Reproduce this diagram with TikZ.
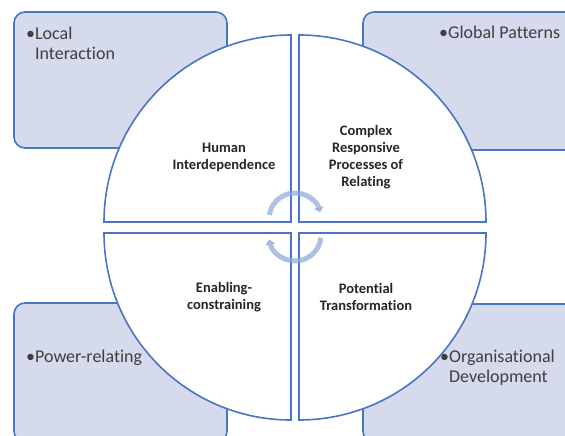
\documentclass[tikz,border=0pt]{standalone}
\usepackage{fontspec}
\setmainfont{Carlito}[Ligatures=NoCommon]
\usetikzlibrary{arrows.meta}
\definecolor{boxfill}{HTML}{D5DAEC}
\definecolor{edgeblue}{HTML}{4A74C4}
\definecolor{arrowblue}{HTML}{8CA7D8}
\definecolor{textgrey}{HTML}{3F3F3F}
\begin{document}
\begin{tikzpicture}[x=1pt,y=1pt,
		outerbox/.style={draw=edgeblue, line width=1.6pt, fill=boxfill, rounded corners=11pt},
		quadrant/.style={draw=edgeblue, line width=1.6pt, fill=white},
		cyclearrow/.style={draw=arrowblue, line width=5pt, opacity=0.7, -{Triangle[length=5pt,width=10pt]}},
		quadtext/.style={align=center, font=\fontsize{14.5}{17}\selectfont\bfseries, text=black!85},
		bullettext/.style={align=left, anchor=west, inner sep=0pt, font=\fontsize{18}{20}\selectfont, text=textgrey}]
	\useasboundingbox (0,0) rectangle (565,-436);
	\clip (0,0) rectangle (565,-436);

	\draw[outerbox] (14,-12) rectangle (227,-148);
	\draw[outerbox] (363,-12) rectangle (576,-150);
	\draw[outerbox] (14,-303) rectangle (227,-442);
	\draw[outerbox] (363,-304) rectangle (576,-442);

	\draw[quadrant] (291,-222) -- ++(-187,0) arc[start angle=180, end angle=90, radius=187] -- cycle;
	\draw[quadrant] (299,-222) -- ++(0,187) arc[start angle=90, end angle=0, radius=187] -- cycle;
	\draw[quadrant] (291,-233) -- ++(0,-187) arc[start angle=270, end angle=180, radius=187] -- cycle;
	\draw[quadrant] (299,-233) -- ++(187,0) arc[start angle=0, end angle=-90, radius=187] -- cycle;

	\draw[cyclearrow] (295,-219) ++(171:26) arc[start angle=171, end angle=15, radius=26];
	\draw[cyclearrow] (295,-235) ++(-6:26) arc[start angle=-6, end angle=-170, radius=26];

	\node[quadtext] (human) at (224,-157) {Human\\Interdependence};
	\node[quadtext] (complex) at (366,-157) {Complex\\Responsive\\Processes of\\Relating};
	\node[quadtext] (enabling) at (224,-297) {Enabling-\\constraining};
	\node[quadtext] (potential) at (366,-297) {Potential\\Transformation};

	\node[bullettext] (local) at (26,-43) {\textbullet Local\\\phantom{\textbullet}Interaction};
	\node[bullettext] (global) at (439,-32) {\textbullet Global Patterns};
	\node[bullettext] (power) at (26,-358) {\textbullet Power-relating};
	\node[bullettext] (organ) at (440,-368) {\textbullet Organisational\\\phantom{\textbullet}Development};
\end{tikzpicture}
\end{document}
